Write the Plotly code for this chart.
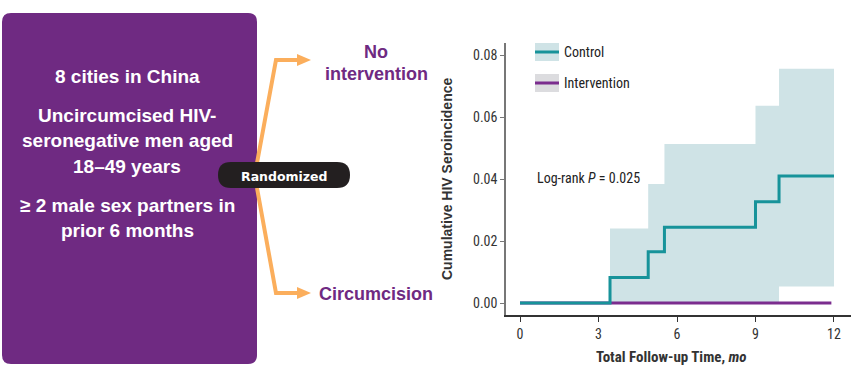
import plotly.graph_objects as go

# ---------------- data ----------------
step_times = [0, 3.44, 4.9, 5.52, 9.0, 9.9, 12]
control_incidence = [0, 0.0082, 0.0165, 0.0244, 0.0327, 0.041, 0.041]
ci_times = [3.44, 4.9, 5.52, 9.0, 9.9, 12]
ci_upper = [0.024, 0.0384, 0.0513, 0.0636, 0.0756, 0.0756]
ci_lower = [0, 0, 0, 0, 0.0053, 0.0053]
intervention_times = [0, 11.9]
intervention_incidence = [0, 0]
x_ticks = [0, 3, 6, 9, 12]
y_ticks = [0.00, 0.02, 0.04, 0.06, 0.08]
legend_labels = ["Control", "Intervention"]
box_lines = ["8 cities in China", "Uncircumcised HIV-", "seronegative men aged",
             "18–49 years", "≥ 2 male sex partners in", "prior 6 months"]

W, H = 854, 374
PURPLE = "#6f2a82"
TEAL = "#17939a"
BAND = "#cfe3e6"
ORANGE = "#fbae5c"
NARROW = "Liberation Sans Narrow, Arial Narrow, Roboto Condensed, sans-serif"
ARIAL = "Liberation Sans, Arial, sans-serif"


def px(x):
    return x / W


def py(y):
    return 1 - y / H


def ann(x, y, text, size, color, family=ARIAL, xanchor="center", **kw):
    return dict(x=px(x), y=py(y), xref="paper", yref="paper", text=text, showarrow=False,
                xanchor=xanchor, yanchor="middle", font=dict(family=family, size=size, color=color), **kw)


fig = go.Figure()

fig.add_trace(go.Scatter(x=ci_times, y=ci_upper, mode="lines", line=dict(width=0, shape="hv", color=BAND),
                         hoverinfo="skip", showlegend=False))
fig.add_trace(go.Scatter(x=ci_times, y=ci_lower, mode="lines", line=dict(width=0, shape="hv", color=BAND),
                         fill="tonexty", fillcolor=BAND, hoverinfo="skip", showlegend=False))
fig.add_trace(go.Scatter(x=intervention_times, y=intervention_incidence, mode="lines",
                         line=dict(color="#7b2d8e", width=3), name=legend_labels[1], showlegend=False))
fig.add_trace(go.Scatter(x=step_times, y=control_incidence, mode="lines",
                         line=dict(color=TEAL, width=3, shape="hv"), name=legend_labels[0], showlegend=False))

shapes = []
annotations = []

# purple rounded box
x0, x1, y0, y1, r = 2, 257, 13, 364, 9
path = (f"M {px(x0+r)},{py(y0)} L {px(x1-r)},{py(y0)} Q {px(x1)},{py(y0)} {px(x1)},{py(y0+r)} "
        f"L {px(x1)},{py(y1-r)} Q {px(x1)},{py(y1)} {px(x1-r)},{py(y1)} "
        f"L {px(x0+r)},{py(y1)} Q {px(x0)},{py(y1)} {px(x0)},{py(y1-r)} "
        f"L {px(x0)},{py(y0+r)} Q {px(x0)},{py(y0)} {px(x0+r)},{py(y0)} Z")
shapes.append(dict(type="path", xref="paper", yref="paper", path=path, fillcolor=PURPLE, line=dict(width=0),
                   layer="below"))

# orange arrows
for (a, b, c) in [((257, 163), (276, 60), (299, 60)), ((257, 188), (276, 293), (299, 293))]:
    shapes.append(dict(type="path", xref="paper", yref="paper",
                       path=f"M {px(a[0])},{py(a[1])} L {px(b[0])},{py(b[1])} L {px(c[0])},{py(c[1])}",
                       line=dict(color=ORANGE, width=4)))
    ty = c[1]
    shapes.append(dict(type="path", xref="paper", yref="paper",
                       path=f"M {px(297)},{py(ty-6)} L {px(311)},{py(ty)} L {px(297)},{py(ty+6)} Z",
                       fillcolor=ORANGE, line=dict(width=0)))

# randomized pill
x0, x1, y0, y1, r = 218, 350, 162, 188, 13
path = (f"M {px(x0+r)},{py(y0)} L {px(x1-r)},{py(y0)} Q {px(x1)},{py(y0)} {px(x1)},{py(y0+r)} "
        f"Q {px(x1)},{py(y1)} {px(x1-r)},{py(y1)} L {px(x0+r)},{py(y1)} "
        f"Q {px(x0)},{py(y1)} {px(x0)},{py(y0+r)} Q {px(x0)},{py(y0)} {px(x0+r)},{py(y0)} Z")
shapes.append(dict(type="path", xref="paper", yref="paper", path=path, fillcolor="#231f20", line=dict(width=0)))
annotations.append(ann(284, 176, "<b>Randomized</b>", 12.5, "white", family="DejaVu Sans, sans-serif"))

# box text
for txt, yy in zip(box_lines, [76, 115, 141, 166, 205, 230]):
    annotations.append(ann(127, yy, f"<b>{txt}</b>", 19, "white"))

annotations.append(ann(376, 52, "<b>No</b>", 18, PURPLE))
annotations.append(ann(376, 74, "<b>intervention</b>", 18, PURPLE))
annotations.append(ann(376, 294, "<b>Circumcision</b>", 18, PURPLE))

# legend
for label, yc, bg, lc in [(legend_labels[0], 52, BAND, TEAL), (legend_labels[1], 83, "#dcdcdf", "#7b2d8e")]:
    shapes.append(dict(type="rect", xref="paper", yref="paper", x0=px(535), x1=px(559), y0=py(yc-9), y1=py(yc+9),
                       fillcolor=bg, line=dict(width=0)))
    shapes.append(dict(type="line", xref="paper", yref="paper", x0=px(535), x1=px(559), y0=py(yc), y1=py(yc),
                       line=dict(color=lc, width=3)))
    annotations.append(ann(562, yc, label, 14, "#222", family=NARROW, xanchor="left"))

annotations.append(ann(535, 178, "Log-rank <i>P</i> = 0.025", 14, "#222", family=NARROW, xanchor="left"))

annotations.append(ann(447, 179, "<b>Cumulative HIV Seroincidence</b>", 14, "#333", textangle=-90))
annotations.append(ann(671, 357, "<b>Total Follow-up Time, <i>mo</i></b>", 15, "#333", family=NARROW))

fig.update_layout(
    width=W, height=H, autosize=False, margin=dict(l=0, r=0, t=0, b=0),
    paper_bgcolor="white", plot_bgcolor="white", showlegend=False,
    shapes=shapes, annotations=annotations,
    xaxis=dict(domain=[px(506), px(851)], range=[-0.535, 12.65], tickvals=x_ticks,
               ticktext=[str(v) for v in x_ticks], showgrid=False, zeroline=False,
               showline=True, linecolor="#333", linewidth=1.5, ticks="outside", ticklen=5, tickcolor="#333",
               tickfont=dict(family=NARROW, size=14, color="#333"), fixedrange=True),
    yaxis=dict(domain=[py(315), py(43)], range=[-0.00387, 0.08387], tickvals=y_ticks,
               ticktext=[f"{v:.2f}" for v in y_ticks], showgrid=False, zeroline=False,
               showline=True, linecolor="#777", linewidth=1.5, ticks="outside", ticklen=4, tickcolor="#777",
               tickfont=dict(family=NARROW, size=14, color="#333"), fixedrange=True),
)

fig.write_html("out.html", config={"displayModeBar": False},
               post_script="document.body.style.margin='0px';")
